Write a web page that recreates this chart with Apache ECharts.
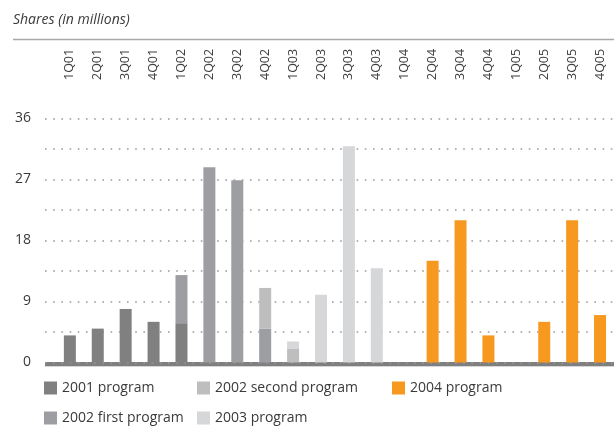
<!DOCTYPE html>
<html>
<head>
<meta charset="utf-8">
<script src="https://cdn.jsdelivr.net/npm/echarts@6/dist/echarts.min.js"></script>
<style>
  html, body { margin: 0; padding: 0; background: #fff; }
  #chart { width: 614px; height: 426px; }
</style>
</head>
<body>
<div id="chart"></div>
<script>
// Quarterly share repurchases by buyback program (millions of shares)
const quarters = ['1Q01','2Q01','3Q01','4Q01','1Q02','2Q02','3Q02','4Q02','1Q03','2Q03',
                  '3Q03','4Q03','1Q04','2Q04','3Q04','4Q04','1Q05','2Q05','3Q05','4Q05'];
const program2001        = [4.0, 5.0, 7.9, 6.0, 5.8, null, null, null, null, null, null, null, null, null, null, null, null, null, null, null];
const program2002First   = [null, null, null, null, 7.1, 28.8, 26.9, 5.0, null, null, null, null, null, null, null, null, null, null, null, null];
const program2002Second  = [null, null, null, null, null, null, null, 6.0, 2.0, null, null, null, null, null, null, null, null, null, null, null];
const program2003        = [null, null, null, null, null, null, null, null, 1.1, 10.0, 31.9, 13.9, null, null, null, null, null, null, null, null];
const program2004        = [null, null, null, null, null, null, null, null, null, null, null, null, null, 15.0, 21.0, 4.0, null, 6.0, 21.0, 7.0];
const yTickLabels = [0, 9, 18, 27, 36];

const seriesNames  = ['2001 program', '2002 first program', '2002 second program', '2003 program', '2004 program'];
const seriesData   = [program2001, program2002First, program2002Second, program2003, program2004];
const seriesColors = ['#808081', '#9d9ea1', '#bebebf', '#d6d7d9', '#f7991e'];

// legend slots: two rows, filled column by column
const legendSlots = [
  { left: 44,  top: 381 }, { left: 44,  top: 411 },
  { left: 197, top: 381 }, { left: 197, top: 411 },
  { left: 392, top: 381 }
];

const FONT = '"Open Sans", "DejaVu Sans", sans-serif';
const TEXT = '#3a3a3a';

const chart = echarts.init(document.getElementById('chart'), null, { renderer: 'canvas' });

const plotTop = 118.5, plotBottom = 63.5;

const option = {
  animation: false,
  backgroundColor: '#ffffff',
  textStyle: { fontFamily: FONT },
  graphic: [
    { type: 'text', left: 13, top: 13,
      style: { text: 'Shares (in millions)', font: 'italic 14px ' + FONT, fill: TEXT } },
    { type: 'line', shape: { x1: 13, y1: 39.5, x2: 614, y2: 39.5 },
      style: { stroke: '#a8a8a8', lineWidth: 1.5 } }
  ],
  grid: [
    // background grid: dotted guide lines and value labels
    { left: 45, right: 0, top: plotTop, bottom: plotBottom, containLabel: false },
    // bar grid: one band per quarter
    { left: 55.9, right: -5.1, top: plotTop, bottom: plotBottom, containLabel: false },
    // base line strip under the bars, with a pale rule beneath it
    { left: 45, right: 0, top: 362, height: 4, show: true,
      backgroundColor: '#7f7f7f', borderWidth: 0 },
    { left: 45, right: 0, top: 366, height: 1, show: true,
      backgroundColor: '#d6d6d6', borderWidth: 0 }
  ],
  xAxis: [
    { gridIndex: 0, type: 'value', min: 0, max: 1, show: false },
    { gridIndex: 1, type: 'category', data: quarters, position: 'top',
      axisLine: { show: false }, axisTick: { show: false },
      axisLabel: { rotate: 90, margin: 38.5, fontSize: 12.5, color: '#404040', fontFamily: FONT, interval: 0 } }
  ],
  yAxis: [
    { gridIndex: 0, type: 'value', min: 0, max: 36, interval: 4.5,
      axisLine: { show: false }, axisTick: { show: false },
      axisLabel: { margin: 14, fontSize: 14, color: TEXT, fontFamily: FONT,
        formatter: v => (yTickLabels.indexOf(v) >= 0 ? String(v) : '') },
      splitLine: { show: true, lineStyle: { color: '#9a9a9a', width: 1.6, type: [1.6, 6.6] } } },
    { gridIndex: 0, type: 'value', min: 0, max: 36, interval: 4.5, offset: 31,
      axisLine: { show: false },
      axisTick: { show: true, length: 1.6, lineStyle: { color: '#b0b0b0', width: 1.6 } },
      axisLabel: { show: false }, splitLine: { show: false } },
    { gridIndex: 1, type: 'value', min: 0, max: 36, show: false }
  ],
  legend: seriesNames.map((name, i) => ({
    left: legendSlots[i].left, top: legendSlots[i].top,
    itemWidth: 13, itemHeight: 13, icon: 'rect', padding: 0,
    textStyle: { fontSize: 14, color: TEXT, fontFamily: FONT },
    data: [name]
  })),
  series: seriesNames.map((name, i) => ({
    name: name,
    type: 'bar',
    stack: 'shares',
    xAxisIndex: 1,
    yAxisIndex: 2,
    barWidth: 12,
    itemStyle: { color: seriesColors[i] },
    data: seriesData[i]
  }))
};

chart.setOption(option);
</script>
</body>
</html>
